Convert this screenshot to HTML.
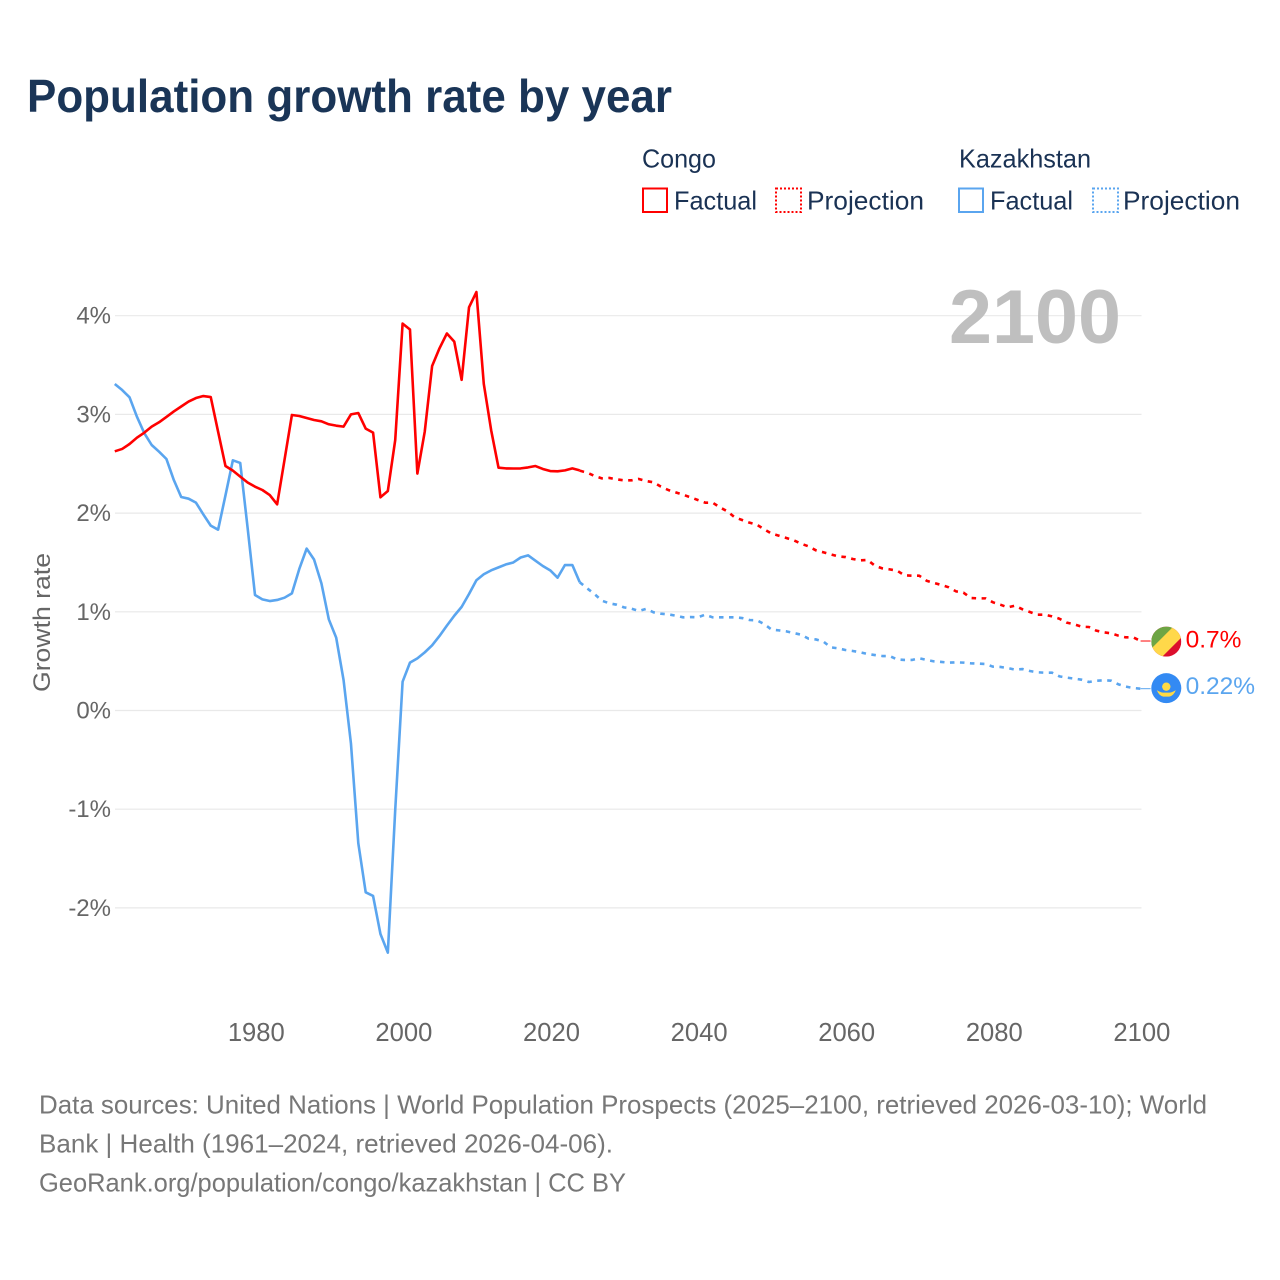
<!DOCTYPE html>
<html lang="en">
<head>
<meta charset="utf-8">
<title>Population growth rate by year</title>
<style>
html,body{margin:0;padding:0;background:#fff}
svg{display:block;font-family:"Liberation Sans",sans-serif}
</style>
</head>
<body>
<svg id="chart" xmlns="http://www.w3.org/2000/svg" width="1280" height="1280" viewBox="0 0 1280 1280">
<defs>
<clipPath id="flag-clip"><circle cx="0" cy="0" r="15"/></clipPath>
</defs>
<rect width="1280" height="1280" fill="#fff"/>
<text x="27" y="112" font-size="46" font-weight="700" fill="#1a3557" textLength="645" lengthAdjust="spacingAndGlyphs">Population growth rate by year</text>

<g font-size="26" fill="#1a3254">
<text x="642" y="167.5" textLength="74" lengthAdjust="spacingAndGlyphs">Congo</text>
<text x="959" y="167.5" textLength="132" lengthAdjust="spacingAndGlyphs">Kazakhstan</text>
<g>
<rect x="643" y="188.5" width="24" height="23.5" fill="none" stroke="#ff0000" stroke-width="2"/>
<text x="674" y="209.5" textLength="83" lengthAdjust="spacingAndGlyphs">Factual</text>
</g>
<g>
<rect x="776" y="188.5" width="25" height="23.5" fill="none" stroke="#ff0000" stroke-width="2" stroke-dasharray="2 2"/>
<text x="807" y="209.5" textLength="117" lengthAdjust="spacingAndGlyphs">Projection</text>
</g>
<g>
<rect x="959" y="188.5" width="24" height="23.5" fill="none" stroke="#5aa5ef" stroke-width="2"/>
<text x="990" y="209.5" textLength="83" lengthAdjust="spacingAndGlyphs">Factual</text>
</g>
<g>
<rect x="1093" y="188.5" width="25" height="23.5" fill="none" stroke="#5aa5ef" stroke-width="2" stroke-dasharray="2 2"/>
<text x="1123" y="209.5" textLength="117" lengthAdjust="spacingAndGlyphs">Projection</text>
</g>
</g>

<g id="grid"></g>
<text x="949" y="343" font-size="76" font-weight="700" fill="#bfbfbf" textLength="172" lengthAdjust="spacingAndGlyphs">2100</text>
<text transform="translate(50,692) rotate(-90)" font-size="24" fill="#666" textLength="139" lengthAdjust="spacingAndGlyphs">Growth rate</text>
<g id="y-ticks"></g>
<g id="x-ticks"></g>
<g id="series"></g>

<g id="flag-congo">
<g clip-path="url(#flag-clip)">
<rect x="-15" y="-15" width="30" height="30" fill="#dc0f2d"/>
<polygon points="-15,15 -4,15 15,-4 15,-15 4,-15 -15,4" fill="#ffd84a"/>
<polygon points="-15,-15 7,-15 -15,7" fill="#6da544"/>
</g>
</g>
<g id="flag-kazakhstan">
<circle r="15" fill="#338af3"/>
<circle cx="0" cy="-1.5" r="4.2" fill="#ffda44"/>
<path d="M-9.5,2 Q-5.5,4.5 -3,4.5 L3,4.5 Q5.5,4.5 9.5,2 Q7.5,7.5 3,8.5 L-3,8.5 Q-7.5,7.5 -9.5,2Z" fill="#ffda44"/>
</g>
<g id="end-labels"></g>

<g font-size="26" fill="#777">
<text x="39" y="1113.5" textLength="1168" lengthAdjust="spacingAndGlyphs">Data sources: United Nations | World Population Prospects (2025–2100, retrieved 2026-03-10); World</text>
<text x="39" y="1152.5" textLength="574" lengthAdjust="spacingAndGlyphs">Bank | Health (1961–2024, retrieved 2026-04-06).</text>
<text x="39" y="1191.5" textLength="587" lengthAdjust="spacingAndGlyphs">GeoRank.org/population/congo/kazakhstan | CC BY</text>
</g>
</svg>

<script>
const firstYear = 1961;
const lastFactualYear = 2024;
const yTickValues = [4, 3, 2, 1, 0, -1, -2];
const yTickLabels = ['4%', '3%', '2%', '1%', '0%', '-1%', '-2%'];
const xTickValues = [1980, 2000, 2020, 2040, 2060, 2080, 2100];
const xTickLabels = ['1980', '2000', '2020', '2040', '2060', '2080', '2100'];
const endLabelCongo = '0.7%';
const endLabelKazakhstan = '0.22%';

const congoFactual = [
2.626,2.65,2.70,2.764,2.815,2.876,2.92,2.974,3.03,3.08,
3.13,3.166,3.186,3.176,2.825,2.477,2.43,2.37,2.31,2.268,
2.234,2.183,2.089,2.54,2.994,2.984,2.963,2.943,2.93,2.90,
2.886,2.876,3.00,3.014,2.856,2.815,2.16,2.224,2.74,3.92,
3.86,2.40,2.825,3.49,3.67,3.82,3.737,3.35,4.085,4.24,
3.31,2.84,2.46,2.453,2.452,2.453,2.463,2.477,2.447,2.426,
2.423,2.433,2.453,2.433
];
const congoProjection = [
2.43,2.41,2.376,2.352,2.356,2.342,2.332,2.332,2.346,2.325,
2.312,2.268,2.234,2.21,2.187,2.16,2.133,2.106,2.106,2.058,
2.018,1.957,1.93,1.903,1.883,1.836,1.792,1.771,1.748,1.724,
1.69,1.663,1.623,1.603,1.582,1.562,1.555,1.535,1.521,1.525,
1.467,1.44,1.43,1.417,1.37,1.366,1.366,1.315,1.292,1.272,
1.248,1.207,1.194,1.14,1.136,1.136,1.096,1.072,1.045,1.062,
1.025,0.998,0.971,0.971,0.954,0.93,0.89,0.873,0.849,0.846,
0.809,0.792,0.782,0.758,0.741,0.741,0.704
];
const kazakhstanFactual = [
3.308,3.247,3.173,2.977,2.81,2.69,2.622,2.548,2.335,2.163,
2.146,2.106,1.987,1.873,1.832,2.18,2.535,2.508,1.85,1.17,
1.126,1.109,1.12,1.143,1.187,1.434,1.64,1.53,1.288,0.924,
0.738,0.309,-0.333,-1.346,-1.842,-1.879,-2.264,-2.453,-1.008,0.292,
0.485,0.528,0.589,0.66,0.755,0.86,0.96,1.05,1.18,1.32,
1.38,1.42,1.45,1.48,1.50,1.55,1.572,1.518,1.464,1.42,
1.346,1.474,1.474,1.30
];
const kazakhstanProjection = [
1.30,1.238,1.18,1.113,1.086,1.072,1.045,1.032,1.008,1.03,
0.995,0.981,0.974,0.961,0.944,0.947,0.944,0.971,0.944,0.944,
0.944,0.944,0.937,0.917,0.914,0.876,0.819,0.812,0.802,0.785,
0.768,0.728,0.72,0.70,0.64,0.63,0.613,0.603,0.59,0.572,
0.562,0.552,0.552,0.518,0.512,0.512,0.529,0.512,0.498,0.492,
0.485,0.488,0.485,0.478,0.475,0.471,0.444,0.441,0.43,0.414,
0.42,0.40,0.387,0.383,0.383,0.346,0.333,0.323,0.312,0.289,
0.302,0.306,0.302,0.265,0.242,0.228,0.221
];

const NS = 'http://www.w3.org/2000/svg';
function xScale(year) { return 255 + (year - 1980) * 7.38; }
function yScale(value) { return 710.5 - value * 98.7; }
function make(tag, attrs, parent) {
  const el = document.createElementNS(NS, tag);
  for (const k in attrs) el.setAttribute(k, attrs[k]);
  parent.appendChild(el);
  return el;
}
function pathFrom(values, startYear) {
  return values.map(function (v, i) {
    return (i ? 'L' : 'M') + xScale(startYear + i).toFixed(2) + ',' + yScale(v).toFixed(2);
  }).join(' ');
}

const gridG = document.getElementById('grid');
const yTickG = document.getElementById('y-ticks');
yTickValues.forEach(function (v, i) {
  const line = make('line', { x1: 115, x2: 1141.5, y1: yScale(v), y2: yScale(v), stroke: '#e9e9e9', 'stroke-width': 1.2 }, gridG);
  
  
  const label = make('text', { x: 111, y: yScale(v) + 8, 'text-anchor': 'end', 'font-size': 24, fill: '#666' }, yTickG);
  label.textContent = yTickLabels[i];
  
  
});
const xTickG = document.getElementById('x-ticks');
xTickValues.forEach(function (v, i) {
  const label = make('text', { x: xScale(v) + 1.3, y: 1041, 'text-anchor': 'middle', 'font-size': 25.6, fill: '#666' }, xTickG);
  label.textContent = xTickLabels[i];
  
  
});

const seriesG = document.getElementById('series');
function addLine(name, values, startYear, color, dash) {
  const attrs = { d: pathFrom(values, startYear), fill: 'none', stroke: color, 'stroke-width': 2.6, 'stroke-linejoin': 'round' };
  if (dash) attrs['stroke-dasharray'] = dash;
  const p = make('path', attrs, seriesG);
  
  
  return p;
}
addLine('line-kazakhstan-projection', kazakhstanProjection, lastFactualYear, '#5aa5ef', '4.5 5.5');
addLine('line-kazakhstan-factual', kazakhstanFactual, firstYear, '#5aa5ef');
addLine('line-congo-projection', congoProjection, lastFactualYear, '#ff0000', '4.5 5.5');
addLine('line-congo-factual', congoFactual, firstYear, '#ff0000');

const labelsG = document.getElementById('end-labels');
function addEnd(flagId, lastValue, text, color, name, dy) {
  const endX = xScale(2100);
  const endY = yScale(lastValue);
  const flagY = endY + dy;
  const conn = make('line', { x1: endX, y1: endY, x2: endX + 10, y2: endY, stroke: color, 'stroke-width': 1 }, seriesG);
  
  
  document.getElementById(flagId).setAttribute('transform', 'translate(' + (endX + 25.7) + ',' + flagY + ')');
  const t = make('text', { x: endX + 45, y: flagY + 6, 'font-size': 24.5, fill: color }, labelsG);
  t.textContent = text;
  
  
}
addEnd('flag-congo', congoProjection[congoProjection.length - 1], endLabelCongo, '#ff0000', 'congo', 0.6);
addEnd('flag-kazakhstan', kazakhstanProjection[kazakhstanProjection.length - 1], endLabelKazakhstan, '#5aa5ef', 'kazakhstan', -0.5);
</script>
</body>
</html>
